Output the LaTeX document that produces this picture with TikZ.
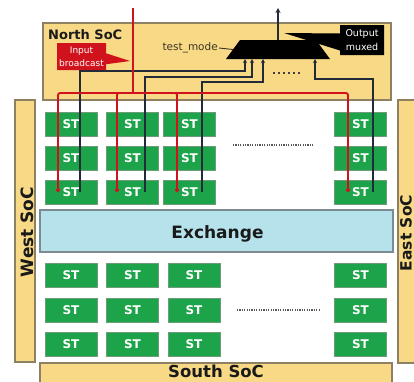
\documentclass[tikz,border=0pt]{standalone}
\usepackage{fontspec}
\setmainfont{DejaVu Sans}
\usetikzlibrary{shapes.callouts,arrows.meta}
\definecolor{socy}{HTML}{F8D985}
\definecolor{socb}{HTML}{8E8062}
\definecolor{stg}{HTML}{1DA34A}
\definecolor{stb}{HTML}{6E9C78}
\definecolor{exf}{HTML}{B6E2EC}
\definecolor{exb}{HTML}{7C8A92}
\definecolor{wred}{HTML}{D0121C}
\definecolor{wblk}{HTML}{232A38}
\definecolor{txtd}{HTML}{3A3528}
\definecolor{lbl}{HTML}{1A1A1A}
\begin{document}
\begin{tikzpicture}[x=1pt,y=-1pt,
 soc/.style={draw=socb,fill=socy,line width=1.3pt,inner sep=0,outer sep=0},
 exbox/.style={draw=exb,fill=exf,line width=1.3pt,inner sep=0,outer sep=0},
 stbox/.style={draw=stb,fill=stg,line width=0.7pt,minimum width=52pt,minimum height=24pt,inner sep=0,text=white,font=\fontsize{12}{13}\selectfont\bfseries},
 biglbl/.style={font=\fontsize{17}{20}\selectfont\bfseries,inner sep=0,text=lbl},
 redw/.style={draw=wred,line width=1.8pt},
 blkw/.style={draw=wblk,line width=1.1pt},
 intip/.style={-{Stealth[length=4pt,width=4pt]}},
 dotline/.style={draw=black!65,line width=1.6pt,dash pattern=on 1.2pt off 1.2pt},
]
\clip (0,0) rectangle (414,381);
\fill[white] (0,0) rectangle (414,381);

% SoC frames
\node[soc,minimum width=348pt,minimum height=77pt] (north) at (217,61.5) {};
\node[soc,minimum width=20pt,minimum height=262pt] (west) at (25,231) {};
\node[soc,minimum width=32pt,minimum height=263pt] (east) at (414,231.5) {};
\node[soc,minimum width=352pt,minimum height=32pt] (south) at (216,379) {};
\node[exbox,minimum width=353pt,minimum height=42pt] (exch) at (216.5,231) {};

% labels
\node[biglbl,font=\fontsize{13}{15}\selectfont\bfseries,anchor=base west] (northlbl) at (48,39) {North SoC};
\node[biglbl,rotate=90,anchor=base] (westlbl) at (33,232) {West SoC};
\node[biglbl,font=\fontsize{15.5}{18}\selectfont\bfseries,rotate=90,anchor=base] (eastlbl) at (411.5,233) {East SoC};
\node[biglbl,anchor=base] (exlbl) at (217.5,238) {Exchange};
\node[biglbl,font=\fontsize{16.5}{19}\selectfont\bfseries,anchor=base] (southlbl) at (216,377.5) {South SoC};

% ST tiles
\foreach \r/\y in {1/124.5,2/158,3/192}
  \foreach \c/\x in {1/71,2/132.5,3/189.5,4/360.5}
    \node[stbox] (t\r\c) at (\x,\y) {ST};
\foreach \r/\y in {1/275.5,2/310.5,3/344.5}
  \foreach \c/\x in {1/71,2/132.5,3/194,4/360.5}
    \node[stbox] (b\r\c) at (\x,\y) {ST};

% dotted ellipses
\coordinate (d1a) at (233,145); \coordinate (d1b) at (314,145);
\coordinate (d2a) at (237,310); \coordinate (d2b) at (319,310);
\draw[dotline] (d1a) -- (d1b);
\draw[dotline] (d2a) -- (d2b);

% mux
\coordinate (mbl) at (226,59); \coordinate (mtl) at (240,40);
\coordinate (mtr) at (316,40); \coordinate (mbr) at (330,59);
\coordinate (muxb) at (278,59); \coordinate (muxt) at (278,40);
\coordinate (muxw) at (233,49.5);
\fill[black] (mbl) -- (mtl) -- (mtr) -- (mbr) -- cycle;
\coordinate (m1) at (273,73); \coordinate (m2) at (301,73);
\draw[draw=black!75,line width=1.8pt,dash pattern=on 1.6pt off 3.4pt] (m1) -- (m2);

% output
\coordinate (outtop) at (278,8);
\draw[blkw,line width=1.4pt,-{Stealth[length=5pt,width=5pt]}] (muxt) -- (outtop);
\node[rectangle callout,fill=black,text=white,minimum width=44pt,minimum height=30pt,inner sep=0,align=center,
  font=\fontsize{9.5}{13.5}\selectfont,callout absolute pointer={(284,33)},callout pointer width=17pt] (outm) at (362,40) {Output\\muxed};

% test mode
\node[anchor=east,text=txtd,font=\fontsize{10.5}{12}\selectfont,inner sep=1pt] (tm) at (219,48) {test\_mode};
\draw[draw=txtd,line width=0.9pt] (tm.east) -- (muxw);

% input broadcast
\node[rectangle callout,fill=wred,text=white,minimum width=49pt,minimum height=27pt,inner sep=0,align=center,
  font=\fontsize{9}{13}\selectfont,callout absolute pointer={(130,61)},callout pointer width=11pt] (inb) at (81.5,56.5) {Input\\broadcast};

% black (output) wires
\draw[blkw,intip] ([xshift=9pt]t31.center) |- ([xshift=-33pt,yshift=-12pt]muxb) -- ([xshift=-33pt]muxb);
\draw[blkw,intip] ([xshift=12.5pt]t32.center) |- ([xshift=-26pt,yshift=-18pt]muxb) -- ([xshift=-26pt]muxb);
\draw[blkw,intip] ([xshift=12.5pt]t33.center) |- ([xshift=-15pt,yshift=-23pt]muxb) -- ([xshift=-15pt]muxb);
\draw[blkw,intip] ([xshift=12.5pt]t34.center) |- ([xshift=37pt,yshift=-20pt]muxb) -- ([xshift=37pt]muxb);

% red (input) wires
\coordinate (rtop) at (133,8);
\coordinate (rbus) at (133,93);
\draw[redw] (rtop) -- (rbus);
\foreach \c/\dx in {1/-13,2/-15.5,3/-12.5,4/-12.5}
  \draw[redw,rounded corners=2pt,-{Circle[length=4pt]}] (rbus) -| ([xshift=\dx pt]t3\c.center);
\end{tikzpicture}
\end{document}
